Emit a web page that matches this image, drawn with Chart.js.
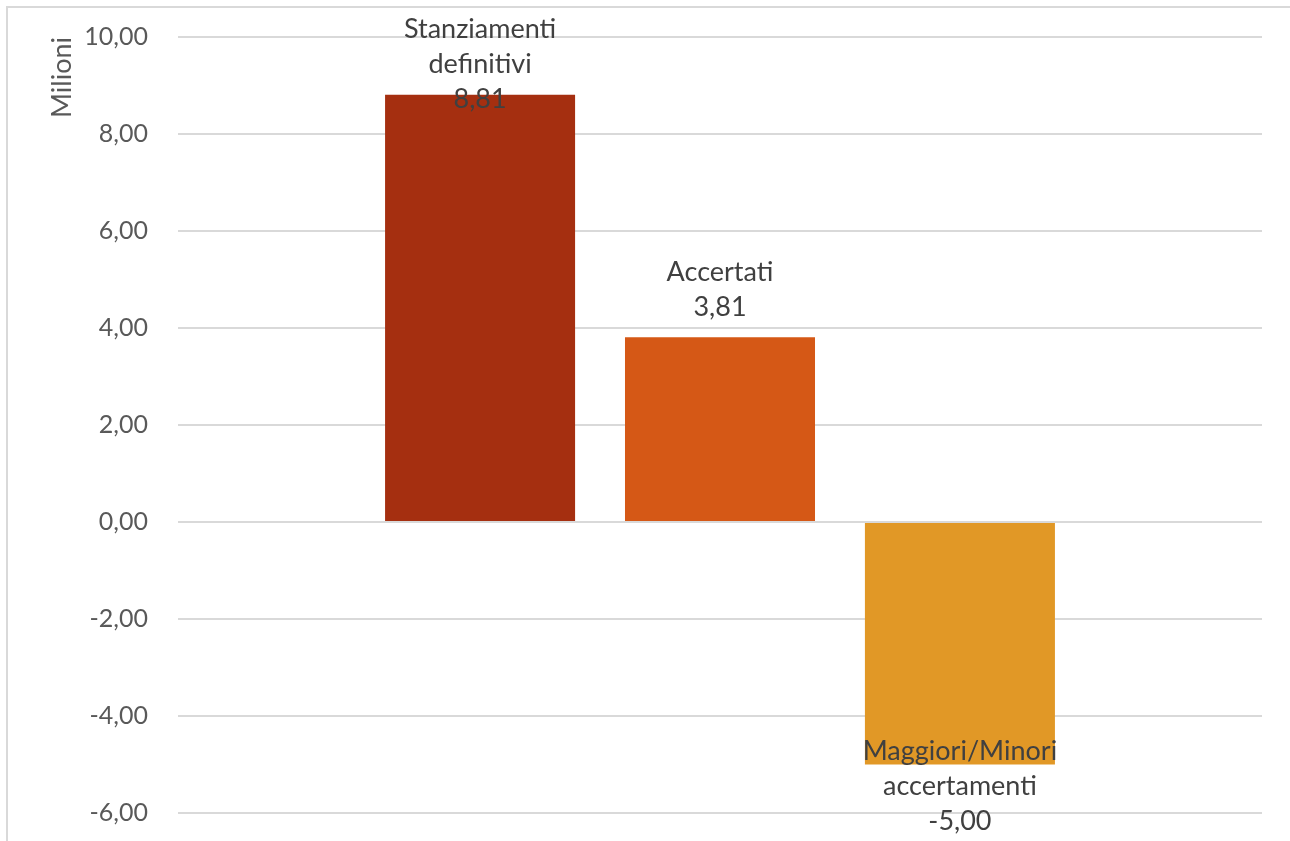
<!DOCTYPE html>
<html>
<head>
<meta charset="utf-8">
<script src="https://cdn.jsdelivr.net/npm/chart.js@4"></script>
<style>
  html, body { margin: 0; padding: 0; background: #fff; }
  #wrap { width: 1290px; height: 841px; }
</style>
</head>
<body>
<div id="wrap"><canvas id="chart" width="1290" height="841"></canvas></div>
<script>
// DATA
const seriesNames = [["Stanziamenti", "definitivi"], ["Accertati"], ["Maggiori/Minori", "accertamenti"]];
const seriesValues = [8.81, 3.81, -5.00];
const seriesColors = ["#A52F10", "#D55816", "#E19826"];
const yMin = -6, yMax = 10, yStep = 2;

const fmt = v => v.toFixed(2).replace(".", ",");

// outer frame like the Excel chart border
const framePlugin = {
  id: "frame",
  beforeDraw(c) {
    const ctx = c.ctx;
    ctx.save();
    ctx.strokeStyle = "#d9d9d9";
    ctx.lineWidth = 2;
    ctx.strokeRect(7, 7, 1400, 1000);
    ctx.restore();
  }
};

// labels: name + value, outside end, kept inside the canvas
const labelPlugin = {
  id: "barLabels",
  afterDatasetsDraw(c) {
    const ctx = c.ctx;
    const lineH = 35, gap = 12;
    ctx.save();
    ctx.font = "27px Lato";
    ctx.fillStyle = "#404040";
    ctx.textAlign = "center";
    ctx.textBaseline = "middle";
    c.data.datasets.forEach((ds, i) => {
      const bar = c.getDatasetMeta(i).data[0];
      const lines = [...seriesNames[i], fmt(seriesValues[i])];
      const h = lines.length * lineH;
      let top;
      if (seriesValues[i] >= 0) {
        top = bar.y - gap - h;
        if (top < 12) top = 12;
      } else {
        top = bar.y + gap;
        if (top + h > c.height - 2) top = c.height - 2 - h;
      }
      lines.forEach((t, k) => ctx.fillText(t, bar.x, top + lineH * k + lineH / 2));
    });
    ctx.restore();
  }
};

new Chart(document.getElementById("chart"), {
  type: "bar",
  data: {
    labels: [""],
    datasets: seriesValues.map((v, i) => ({
      label: seriesNames[i].join(" "),
      data: [v],
      backgroundColor: seriesColors[i],
      categoryPercentage: 0.664,
      barPercentage: 0.792
    }))
  },
  options: {
    responsive: false,
    animation: false,
    layout: { padding: { left: 36, right: 28, top: 37, bottom: 28 } },
    plugins: { legend: { display: false }, tooltip: { enabled: false } },
    scales: {
      x: { display: false },
      y: {
        min: yMin,
        max: yMax,
        afterFit(s) { s.width = 142; },
        border: { display: false },
        // invisible tick marks give the gap between labels and plot
        grid: { color: "#d9d9d9", lineWidth: 2, drawTicks: true, tickLength: 27, tickColor: "rgba(0,0,0,0)" },
        ticks: {
          stepSize: yStep,
          padding: 3,
          color: "#595959",
          font: { family: "Lato", size: 25 },
          callback: v => fmt(v)
        },
        title: {
          display: true,
          text: "Milioni",
          align: "end",
          color: "#595959",
          font: { family: "Lato", size: 27 },
          padding: { top: 10, bottom: 0 }
        }
      }
    }
  },
  plugins: [framePlugin, labelPlugin]
});
</script>
</body>
</html>
